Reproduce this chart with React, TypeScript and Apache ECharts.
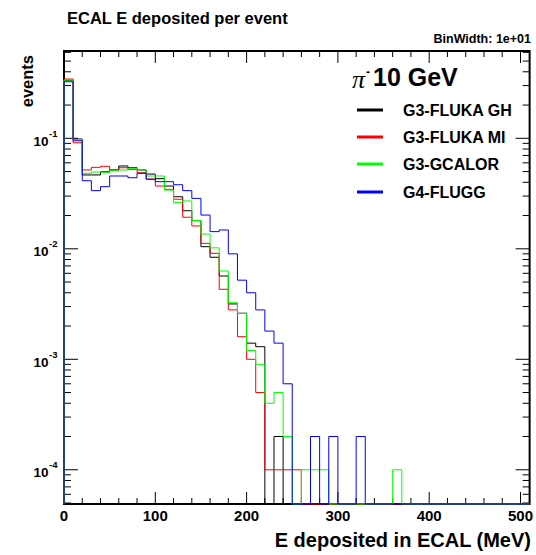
import React, { useEffect, useRef } from 'react';
import * as echarts from 'echarts';

const FONT = "'Liberation Sans', Arial, Helvetica, sans-serif";

const BIN_WIDTH = 10; // MeV
const X_MAX = 510;
const Y_MIN = 4.9e-5;
const Y_MAX = 0.617;

const X_LABELS = [0, 100, 200, 300, 400, 500];
const X_MINOR_STEP = 20;
const Y_LABELS = [1e-4, 1e-3, 1e-2, 1e-1];
const Y_DECADES = [1e-5, 1e-4, 1e-3, 1e-2, 1e-1];
const Y_MINOR_MULT = [2, 3, 4, 5, 6, 7, 8, 9];

const SERIES_NAMES = ['G3-FLUKA GH', 'G3-FLUKA MI', 'G3-GCALOR', 'G4-FLUGG'];
const SERIES_COLORS = ['#000000', '#ff0000', '#00ff00', '#0000ff'];

// events per 10 MeV bin, bins start at 0, 10, 20, ... 500
const G3_FLUKA_GH = [
  0.335, 0.0986, 0.0466, 0.0466, 0.0498, 0.0517, 0.0562, 0.0542, 0.0517, 0.0475,
  0.0431, 0.037, 0.0296, 0.0221, 0.018, 0.01045, 0.00838, 0.00567, 0.00317, 0.00261,
  0.0014, 0.0013, 0, 0.0002, 0, 0, 0, 0, 0, 0,
  0, 0, 0, 0, 0, 0, 0, 0, 0, 0,
  0, 0, 0, 0, 0, 0, 0, 0, 0, 0,
  0,
];
const G3_FLUKA_MI = [
  0.344, 0.0912, 0.0517, 0.0546, 0.0558, 0.0517, 0.0542, 0.0524, 0.0488, 0.0428,
  0.037, 0.0345, 0.0281, 0.0193, 0.0161, 0.0112, 0.0091, 0.0043, 0.0028, 0.0016,
  0.001, 0.0005, 0.0001, 0.0001, 0.0001, 0.0001, 0, 0, 0, 0,
  0, 0, 0, 0, 0, 0, 0, 0, 0, 0,
  0, 0, 0, 0, 0, 0, 0, 0, 0, 0,
  0,
];
const G3_GCALOR = [
  0.337, 0.0971, 0.0482, 0.0495, 0.0488, 0.0509, 0.0517, 0.0535, 0.0517, 0.0456,
  0.0456, 0.034, 0.0263, 0.0271, 0.018, 0.0136, 0.0102, 0.0063, 0.00325, 0.0026,
  0.0012, 0.0009, 0.0004, 0.0005, 0.0002, 0, 0.0001, 0.0001, 0.0001, 0,
  0, 0, 0, 0, 0, 0, 0.0001, 0, 0, 0,
  0, 0, 0, 0, 0, 0, 0, 0, 0, 0,
  0,
];
const G4_FLUGG = [
  0.325, 0.095, 0.0413, 0.0336, 0.0365, 0.0456, 0.0456, 0.044, 0.0482, 0.0426,
  0.0405, 0.0405, 0.038, 0.0336, 0.0286, 0.0202, 0.0143, 0.0148, 0.009, 0.0052,
  0.004, 0.0028, 0.0018, 0.0014, 0.0006, 0, 0, 0.0002, 0, 0.0002,
  0, 0, 0.0002, 0, 0, 0, 0, 0, 0, 0,
  0, 0, 0, 0, 0, 0, 0, 0, 0, 0,
  0,
];
const SERIES_VALUES = [G3_FLUKA_GH, G3_FLUKA_MI, G3_GCALOR, G4_FLUGG];

function stepData(values: number[]) {
  const pts: number[][] = [[0, Y_MIN]];
  values.forEach((v, i) => pts.push([i * BIN_WIDTH, v > 0 ? v : Y_MIN]));
  const last = values[values.length - 1];
  pts.push([values.length * BIN_WIDTH, last > 0 ? last : Y_MIN]);
  return pts;
}

export default function App() {
  const ref = useRef<HTMLDivElement>(null);
  useEffect(() => {
    if (!ref.current) return;
    const chart = echarts.init(ref.current, null, { renderer: 'svg' });

    const yTicks: number[][] = [];
    Y_DECADES.forEach((d) => {
      const major = d * 10;
      if (major >= Y_MIN && major <= Y_MAX) yTicks.push([0, major, Y_LABELS.includes(major) ? 1 : 0]);
      Y_MINOR_MULT.forEach((m) => {
        const v = d * m;
        if (v >= Y_MIN && v <= Y_MAX) yTicks.push([0, v, 0]);
      });
    });
    const xTicks: number[][] = [];
    for (let x = 0; x <= 500; x += X_MINOR_STEP) xTicks.push([x, Y_MIN, X_LABELS.includes(x) ? 1 : 0]);
    X_LABELS.forEach((x) => {
      if (!xTicks.some((t) => t[0] === x)) xTicks.push([x, Y_MIN, 1]);
    });

    const lineSeries = SERIES_NAMES.map((name, i) => ({
      name,
      type: 'line',
      step: 'end',
      data: stepData(SERIES_VALUES[i]),
      showSymbol: false,
      symbol: 'none',
      lineStyle: { color: SERIES_COLORS[i], width: 1 },
      itemStyle: { color: SERIES_COLORS[i] },
      clip: false,
      silent: true,
      z: 6 + i * 0.01,
    }));

    const tickStyle = { stroke: '#000', lineWidth: 1 };

    const option: any = {
      animation: false,
      backgroundColor: '#ffffff',
      grid: {
        left: 64,
        top: 51,
        right: 4,
        bottom: 51,
        show: true,
        borderColor: '#000',
        borderWidth: 2,
        backgroundColor: 'transparent',
      },
      xAxis: {
        type: 'value',
        min: 0,
        max: X_MAX,
        axisLine: { show: false },
        axisTick: { show: false },
        splitLine: { show: false },
        axisLabel: {
          customValues: X_LABELS,
          color: '#000',
          fontWeight: 'bold',
          fontSize: 15,
          fontFamily: FONT,
          margin: 4,
        },
      },
      yAxis: {
        type: 'log',
        logBase: 10,
        min: Y_MIN,
        max: Y_MAX,
        axisLine: { show: false },
        axisTick: { show: false },
        axisLabel: { show: false },
        splitLine: { show: false },
      },
      series: [
        ...lineSeries,
        {
          type: 'custom',
          name: 'yticks',
          silent: true,
          z: 5,
          data: yTicks,
          renderItem: (_p: any, api: any) => {
            const v = api.value(1);
            const major = api.value(2) === 1;
            const l = api.coord([0, v]);
            const r = api.coord([X_MAX, v]);
            const len = major ? 14 : 7;
            const children: any[] = [
              { type: 'line', shape: { x1: l[0], y1: l[1], x2: l[0] + len, y2: l[1] }, style: tickStyle },
              { type: 'line', shape: { x1: r[0] - len, y1: r[1], x2: r[0], y2: r[1] }, style: tickStyle },
            ];
            if (major) {
              const exp = Math.round(Math.log10(v));
              children.push({
                type: 'text',
                x: l[0] - 15.5,
                y: l[1] + 3,
                style: { text: '10', align: 'right', verticalAlign: 'middle', font: `bold 13.5px ${FONT}`, fill: '#000' },
              });
              children.push({
                type: 'text',
                x: l[0] - 15,
                y: l[1] - 5,
                style: { text: String(exp), align: 'left', verticalAlign: 'middle', font: `bold 9.5px ${FONT}`, fill: '#000' },
              });
            }
            return { type: 'group', children };
          },
        },
        {
          type: 'custom',
          name: 'xticks',
          silent: true,
          z: 5,
          data: xTicks,
          renderItem: (_p: any, api: any) => {
            const x = api.value(0);
            const major = api.value(2) === 1;
            const b = api.coord([x, Y_MIN]);
            const t = api.coord([x, Y_MAX]);
            const len = major ? 12 : 6;
            return {
              type: 'group',
              children: [
                { type: 'line', shape: { x1: b[0], y1: b[1], x2: b[0], y2: b[1] - len }, style: tickStyle },
                { type: 'line', shape: { x1: t[0], y1: t[1], x2: t[0], y2: t[1] + len }, style: tickStyle },
              ],
            };
          },
        },
      ],
      graphic: [
        {
          type: 'text',
          x: 67,
          y: 18,
          style: { text: 'ECAL E deposited per event', font: `bold 16.5px ${FONT}`, fill: '#000', verticalAlign: 'middle' },
        },
        {
          type: 'text',
          x: 531,
          y: 39,
          style: { text: 'BinWidth: 1e+01', font: `bold 12.5px ${FONT}`, fill: '#000', align: 'right', verticalAlign: 'middle' },
        },
        {
          type: 'text',
          x: 27,
          y: 55,
          rotation: Math.PI / 2,
          style: { text: 'events', font: `bold 16.5px ${FONT}`, fill: '#000', align: 'right', verticalAlign: 'middle' },
        },
        {
          type: 'text',
          x: 531,
          y: 540,
          style: { text: 'E deposited in ECAL (MeV)', font: `bold 20px ${FONT}`, fill: '#000', align: 'right', verticalAlign: 'middle' },
        },
        {
          type: 'text',
          x: 352,
          y: 79,
          style: { text: 'π', font: `italic 26px 'Liberation Serif', serif`, fill: '#000', align: 'left', verticalAlign: 'middle' },
        },
        {
          type: 'text',
          x: 366,
          y: 72,
          style: { text: '-', font: `bold 12px ${FONT}`, fill: '#000', align: 'left', verticalAlign: 'middle' },
        },
        {
          type: 'text',
          x: 373,
          y: 77,
          style: { text: '10 GeV', font: `bold 25px ${FONT}`, fill: '#000', align: 'left', verticalAlign: 'middle' },
        },
        ...SERIES_NAMES.flatMap((name, i) => {
          const ys = [110, 137, 164, 192];
          return [
            { type: 'line', shape: { x1: 357, y1: ys[i], x2: 383, y2: ys[i] }, style: { stroke: SERIES_COLORS[i], lineWidth: 3 } },
            {
              type: 'text',
              x: 403,
              y: ys[i],
              style: { text: name, font: `bold 16px ${FONT}`, fill: '#000', align: 'left', verticalAlign: 'middle' },
            },
          ];
        }),
      ],
    };
    chart.setOption(option);
    return () => chart.dispose();
  }, []);
  return (
    <div
      ref={ref}
      style={{ position: 'absolute', left: 0, top: 0, width: 536, height: 555, background: '#fff' }}
    />
  );
}
